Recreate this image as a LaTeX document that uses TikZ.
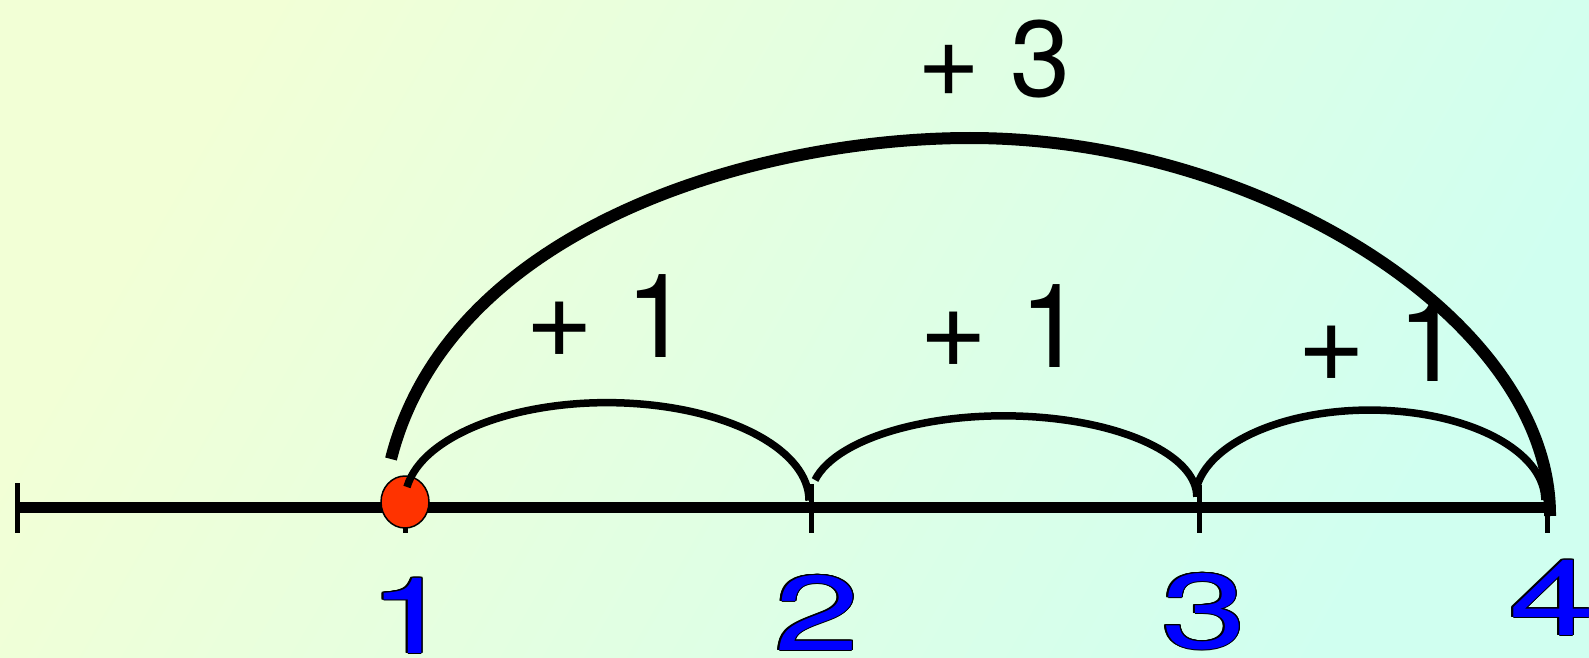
\documentclass[tikz,border=0pt]{standalone}
\usepackage{fontspec}
\setmainfont{TeX Gyre Heros}
\usepackage{contour}
\contourlength{1pt}
\usetikzlibrary{shapes.geometric}

\definecolor{bgtl}{RGB}{242,255,214}
\definecolor{bgbr}{RGB}{208,255,240}
\definecolor{dotred}{RGB}{255,51,0}
\definecolor{numblue}{RGB}{0,0,255}

\tikzset{
  hop/.style={black,line width=7.5pt},
  bighop/.style={black,line width=12pt},
  hoplabel/.style={anchor=base,inner sep=0,font=\fontsize{117}{117}\selectfont},
  numlabel/.style={anchor=base,inner sep=0,text=numblue,xscale=1.45,font=\fontsize{106}{106}\selectfont},
  startdot/.style={ellipse,draw=black,line width=1.5pt,fill=dotred,minimum width=48pt,minimum height=52pt,inner sep=0}
}

\begin{document}
\begin{tikzpicture}[x=1pt,y=-1pt]
\shade[left color=bgtl,right color=bgbr,shading angle=60] (0,0) rectangle (1589,658);
\useasboundingbox (0,0) rectangle (1589,658);
% number line
\coordinate (lend) at (15,507);
\coordinate (rend) at (1550,507);
\draw[line width=11pt] (lend) -- (rend);
\draw[line width=5pt] (17,483) -- (17,533);
\foreach \n/\x/\top/\lx/\ly in {1/405/484/411/653, 2/811/484/817/650, 3/1199/485/1204/648, 4/1547/500/1552/635} {
  \coordinate (t\n) at (\x,507);
  \draw[line width=5pt] (\x,\top) -- (\x,533);
  \node[numlabel] (n\n) at (\lx,\ly) {\contour{black}{\n}};
}
\node[startdot] (dot) at (405,502) {};
% one step at a time
\coordinate (h1) at (407,487);
\coordinate (h2) at (815,480);
\coordinate (h3) at (1197,486);
\draw[hop] (h1) arc[start angle=-172,end angle=0,x radius=202,y radius=98];
\draw[hop] (h2) arc[start angle=-168,end angle=0,x radius=193,y radius=81];
\draw[hop] (h3) arc[start angle=-171,end angle=0,x radius=175,y radius=90];
% all three steps at once
\coordinate (b0) at (391,459);
\coordinate (btop) at (970,138);
\coordinate (b1) at (1550,516);
\draw[bighop] (b0) .. controls (450,225) and (760,138) .. (btop)
  .. controls (1260,138) and (1551,320) .. (b1);
\node[hoplabel] (s1) at (608,357) {+ 1};
\node[hoplabel] (s2) at (1002,367) {+ 1};
\node[hoplabel] (s3) at (1380,381) {+ 1};
\node[hoplabel,font=\fontsize{108}{108}\selectfont] (s4) at (994,97) {+ 3};
\end{tikzpicture}
\end{document}
